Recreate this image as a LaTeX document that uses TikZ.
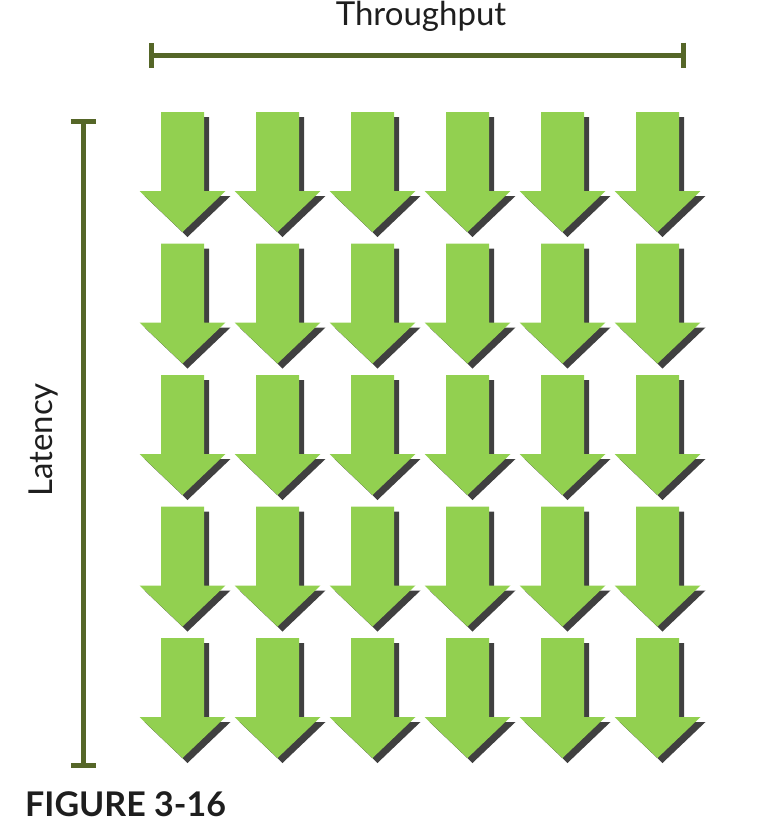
\documentclass[tikz,border=0pt]{standalone}
\usepackage{fontspec}
\setmainfont{Lato}
\usetikzlibrary{arrows.meta}
\definecolor{arrowgreen}{RGB}{146,208,80}
\definecolor{shadowgray}{RGB}{64,64,64}
\definecolor{barolive}{RGB}{85,102,40}
\definecolor{textdark}{RGB}{30,30,30}
\newcommand{\downshape}{(-21.5,0) -- (21.5,0) -- (21.5,79) -- (43,79) -- (0,120) -- (-43,79) -- (-21.5,79) -- cycle}
\begin{document}
\begin{tikzpicture}[x=1pt,y=-1pt,
  dimline/.style={line width=5pt, barolive, {Bar[width=25pt,line width=5pt]}-{Bar[width=25pt,line width=5pt]}},
  axislabel/.style={textdark, font=\fontsize{33}{36}\selectfont, inner sep=0pt},
  figlabel/.style={textdark, font=\fontsize{34}{38}\selectfont\bfseries, inner sep=0pt, text depth=0pt}]
\useasboundingbox (0,0) rectangle (756,822);

% dimension bars
\coordinate (tp west) at (149,55);
\coordinate (tp east) at (686,55);
\draw [dimline] (tp west) -- (tp east);
\coordinate (lat top) at (83,119);
\coordinate (lat bottom) at (83,768);
\draw [dimline] (lat top) -- (lat bottom);

\node [axislabel, anchor=base] (throughput) at (421,25) {Throughput};
\node [axislabel, anchor=base, rotate=90] (latency) at (52,440) {Latency};

% grid of arrows
\foreach \col in {0,...,5}{
  \foreach \row in {0,...,4}{
    \fill [shadowgray, shift={(182.5+95*\col+5,112+131.5*\row+5)}] \downshape;
    \fill [arrowgreen, shift={(182.5+95*\col,112+131.5*\row)}] \downshape;
  }
}

\node [figlabel, anchor=base west] (figure) at (25,816) {FIGURE 3-16};
\end{tikzpicture}
\end{document}
